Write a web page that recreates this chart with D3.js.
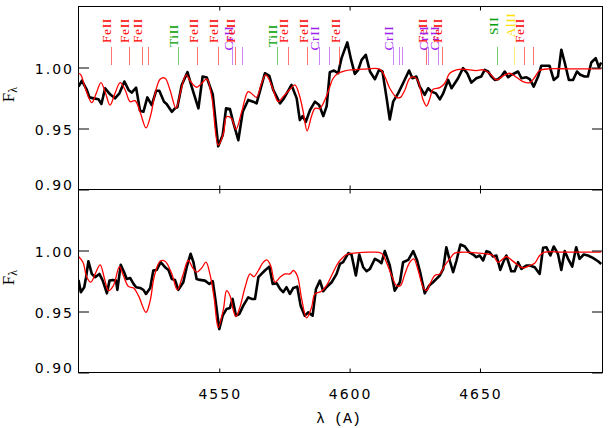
<!DOCTYPE html>
<html><head><meta charset="utf-8">
<script src="https://cdn.jsdelivr.net/npm/d3@7"></script>
<style>html,body{margin:0;padding:0;background:#fff;}svg{display:block;}</style>
</head><body>
<svg id="c" width="610" height="428"></svg>
<script>
// ---------------- data ----------------
const xTicks = [4550, 4600, 4650];
const yTicks = [0.90, 0.95, 1.00];
const yTickLabels = ["0.90", "0.95", "1.00"];

// top panel observed spectrum
const topObsWave = [4496.0,4497.3,4499.2,4500.2,4501.8,4503.7,4504.8,4506.2,4508.1,4510.0,4511.7,4513.6,4515.2,4516.4,4518.1,4519.6,4520.9,4522.4,4524.1,4525.8,4527.0,4528.8,4529.8,4531.8,4533.0,4533.9,4535.6,4537.8,4539.4,4542.0,4543.6,4545.2,4547.5,4549.6,4551.3,4552.6,4554.1,4555.4,4557.3,4559.0,4561.1,4563.0,4564.3,4567.5,4569.2,4570.7,4573.3,4574.8,4577.7,4579.7,4580.9,4582.0,4583.2,4584.8,4586.7,4588.3,4589.9,4591.2,4592.4,4594.0,4595.6,
4596.9,4599.1,4600.6,4602.0,4603.3,4604.6,4606.2,4607.8,4609.7,4611.3,4612.6,4614.1,4615.4,4616.7,4618.6,4620.5,4622.8,4624.1,4625.6,4626.9,4628.8,4630.1,4631.4,4633.1,4634.6,4635.9,4637.8,4639.1,4641.6,4643.5,4645.1,4646.7,4648.6,4650.5,4651.8,4653.1,4654.4,4655.7,4656.9,4658.2,4659.5,4660.8,4662.0,4663.3,4664.6,4665.9,4667.8,4669.1,4670.6,4672.3,4673.5,4675.5,4676.7,4678.3,4679.9,4681.2,4682.5,4684.1,4685.7,4687.2,4688.5,4690.1,4691.4,4692.7,4694.4,4695.6,4696.5];
const topObsFlux = [0.9843,0.9893,0.9816,0.9755,0.9747,0.9739,0.9701,0.9830,0.9780,0.9747,0.9788,0.9885,0.9816,0.9794,0.9835,0.9646,0.9637,0.9755,0.9692,0.9810,0.9810,0.9720,0.9701,0.9637,0.9665,0.9673,0.9857,0.9962,0.9843,0.9665,0.9926,0.9918,0.9780,0.9354,0.9445,0.9665,0.9659,0.9547,0.9404,0.9637,0.9734,0.9720,0.9706,0.9953,0.9931,0.9816,0.9706,0.9747,0.9857,0.9747,0.9569,0.9602,0.9555,0.9651,0.9720,0.9692,0.9602,0.9684,0.9962,0.9975,0.9953,
1.0077,1.0206,1.0060,0.9948,0.9981,1.0063,1.0104,0.9967,0.9904,0.9981,0.9967,0.9761,0.9574,0.9720,0.9788,0.9871,0.9975,0.9912,0.9926,0.9843,0.9775,0.9830,0.9802,0.9788,0.9739,0.9788,0.9898,0.9830,0.9912,0.9995,0.9953,0.9876,0.9912,0.9926,0.9981,0.9967,0.9926,0.9898,0.9904,0.9926,0.9967,0.9920,0.9940,0.9953,0.9967,0.9912,0.9920,0.9904,0.9843,0.9926,1.0014,1.0014,1.0014,0.9898,0.9926,1.0146,1.0041,0.9898,0.9898,0.9967,0.9940,0.9926,0.9926,1.0041,1.0077,1.0003,1.0041];

// top panel model spectrum
const topModWave = [4496.0,4496.9,4498.6,4501.1,4502.8,4504.6,4506.2,4508.1,4510.0,4512.0,4513.9,4515.8,4517.7,4519.6,4521.9,4523.7,4525.4,4527.3,4529.2,4531.1,4533.4,4535.0,4537.3,4539.0,4541.3,4543.3,4545.2,4547.1,4549.6,4551.6,4552.8,4554.7,4556.4,4558.6,4561.1,4563.0,4564.3,4566.2,4567.8,4569.2,4570.7,4572.6,4574.5,4577.1,4579.0,4580.7,4582.2,4583.7,4585.4,4586.7,4588.6,4590.5,4592.4,4593.7,4595.6,4598.2,4601.4,4605.2,4611.6,4613.5,4615.4,4618.0,4619.5,4621.2,4623.1,4625.0,4626.3,4628.2,4629.5,4630.8,4632.0,4634.6,4636.5,4638.4,4641.0,4643.5,4648.6,4651.2,4653.7,4656.3,4658.9,4661.4,4664.0,4666.5,4669.1,4671.0,4672.9,4676.7,4684.4,4696.5];
const topModFlux = [0.9953,0.9940,0.9830,0.9712,0.9788,0.9876,0.9802,0.9692,0.9788,0.9876,0.9816,0.9720,0.9728,0.9637,0.9505,0.9610,0.9788,0.9904,0.9912,0.9816,0.9665,0.9788,0.9940,0.9885,0.9838,0.9871,0.9907,0.9761,0.9363,0.9459,0.9596,0.9582,0.9492,0.9637,0.9802,0.9775,0.9755,0.9871,0.9940,0.9898,0.9816,0.9720,0.9761,0.9821,0.9857,0.9775,0.9637,0.9481,0.9602,0.9665,0.9665,0.9734,0.9843,0.9912,0.9953,0.9973,0.9981,0.9986,0.9986,0.9926,0.9830,0.9755,0.9755,0.9816,0.9912,0.9920,0.9885,0.9734,0.9684,0.9747,0.9821,0.9835,0.9871,0.9953,0.9981,0.9986,0.9975,0.9981,0.9953,0.9898,0.9931,0.9953,0.9920,0.9885,0.9876,0.9920,0.9975,0.9989,0.9989,0.9989];

// bottom panel observed spectrum
const botObsWave = [4496.0,4496.9,4498.2,4498.9,4499.8,4501.1,4502.4,4504.0,4505.3,4506.9,4507.9,4509.2,4510.4,4510.9,4512.2,4513.5,4514.5,4515.8,4517.1,4518.1,4519.6,4520.9,4521.9,4523.5,4524.7,4526.0,4527.5,4529.2,4530.5,4531.8,4533.0,4534.3,4536.2,4537.5,4539.0,4540.1,4541.3,4542.6,4544.5,4546.2,4547.5,4548.4,4550.0,4551.3,4552.8,4554.1,4555.1,4556.4,4557.7,4559.2,4561.1,4562.4,4563.7,4565.0,4566.2,4567.5,4569.2,4570.5,4572.0,4573.3,4574.5,4575.8,4577.1,4578.4,4579.9,4581.2,4582.8,4584.1,4585.8,4587.1,4588.6,4589.9,4591.1,4593.1,4595.0,4596.3,
4597.5,4599.5,4600.7,4602.4,4603.7,4605.2,4606.5,4607.8,4609.7,4611.3,4612.2,4613.5,4615.4,4617.3,4619.3,4620.5,4622.5,4624.4,4625.9,4627.2,4628.8,4630.5,4632.0,4633.3,4634.6,4635.9,4637.1,4638.4,4639.7,4641.0,4642.5,4644.2,4645.8,4647.4,4648.6,4649.9,4651.2,4652.5,4653.7,4655.0,4656.3,4657.8,4658.9,4660.1,4662.0,4663.3,4664.6,4665.9,4667.8,4669.1,4671.0,4672.9,4674.2,4675.5,4677.0,4678.3,4679.9,4681.2,4682.5,4683.8,4685.4,4686.9,4688.2,4689.8,4691.4,4693.3,4695.3,4696.5];
const botObsFlux = [0.9759,0.9658,0.9699,0.9781,0.9912,0.9808,0.9781,0.9808,0.9753,0.9649,0.9753,0.9759,0.9753,0.9677,0.9882,0.9822,0.9767,0.9775,0.9726,0.9699,0.9693,0.9677,0.9644,0.9693,0.9836,0.9841,0.9904,0.9863,0.9841,0.9767,0.9759,0.9677,0.9740,0.9863,0.9973,0.9904,0.9767,0.9759,0.9753,0.9726,0.9748,0.9616,0.9356,0.9466,0.9521,0.9529,0.9603,0.9466,0.9479,0.9548,0.9616,0.9603,0.9603,0.9781,0.9808,0.9836,0.9868,0.9726,0.9732,0.9685,0.9658,0.9699,0.9644,0.9693,0.9704,0.9548,0.9466,0.9493,0.9466,0.9685,0.9753,0.9666,0.9699,0.9740,0.9808,0.9890,
0.9904,0.9978,0.9967,0.9795,0.9967,0.9863,0.9830,0.9849,0.9932,0.9912,0.9896,0.9995,0.9877,0.9671,0.9740,0.9904,0.9923,0.9995,0.9918,0.9808,0.9649,0.9712,0.9740,0.9767,0.9795,0.9849,1.0027,0.9918,0.9822,0.9918,1.0049,1.0033,0.9986,0.9967,0.9945,0.9959,0.9918,0.9995,0.9986,0.9951,0.9959,0.9841,0.9904,0.9959,0.9830,0.9830,0.9904,0.9849,0.9877,0.9877,0.9863,0.9808,1.0022,1.0027,0.9959,1.0033,0.9973,0.9841,0.9995,0.9932,0.9868,1.0027,0.9932,0.9967,0.9959,0.9940,0.9912,0.9890];

// bottom panel model spectrum
const botModWave = [4496.0,4497.7,4499.2,4500.7,4502.4,4504.3,4506.0,4507.5,4509.4,4511.7,4513.2,4515.2,4517.1,4519.0,4521.9,4523.5,4525.0,4527.3,4529.2,4531.8,4533.9,4536.0,4538.1,4539.8,4541.3,4543.3,4544.9,4546.4,4548.0,4549.6,4551.6,4552.8,4554.1,4555.4,4556.4,4557.9,4559.9,4561.8,4563.3,4565.0,4566.6,4568.2,4569.7,4571.4,4573.3,4575.2,4577.1,4578.4,4579.9,4581.6,4583.5,4585.4,4586.7,4589.2,4591.1,4593.1,4595.0,4596.3,4598.8,4602.7,4607.8,4612.2,4614.1,4616.1,4618.0,4619.5,4621.2,4623.1,4624.6,4626.3,4628.2,4629.5,4630.8,4632.7,4634.6,4636.5,4638.4,4640.3,4643.5,4649.9,4652.5,4655.0,4656.9,4658.9,4660.1,4662.0,4664.0,4666.5,4669.1,4671.0,4672.9,4674.8,4681.8,4696.5];
const botModFlux = [0.9951,0.9904,0.9781,0.9740,0.9808,0.9882,0.9767,0.9671,0.9712,0.9868,0.9795,0.9704,0.9693,0.9630,0.9493,0.9589,0.9781,0.9912,0.9912,0.9808,0.9677,0.9795,0.9918,0.9858,0.9822,0.9858,0.9904,0.9808,0.9616,0.9370,0.9521,0.9671,0.9630,0.9507,0.9458,0.9534,0.9699,0.9808,0.9786,0.9836,0.9896,0.9923,0.9877,0.9740,0.9781,0.9808,0.9808,0.9836,0.9795,0.9603,0.9447,0.9534,0.9644,0.9666,0.9712,0.9795,0.9877,0.9918,0.9967,0.9981,0.9986,0.9978,0.9904,0.9795,0.9712,0.9712,0.9808,0.9904,0.9932,0.9836,0.9699,0.9671,0.9726,0.9795,0.9808,0.9877,0.9932,0.9978,0.9986,0.9978,0.9973,0.9959,0.9904,0.9932,0.9951,0.9923,0.9890,0.9858,0.9877,0.9896,0.9959,0.9986,0.9986,0.9986];

// line identifications (top panel)
const lineWave = [4508.3,4515.3,4520.2,4522.6,4534.0,4541.5,4549.5,4555.0,4555.9,4558.7,4572.0,4576.3,4583.8,4588.2,4592.0,4596.0,4616.6,4618.8,4620.0,4629.4,4630.0,4634.0,4635.3,4656.7,4663.1,4666.8,4670.2];
const lineIon = ["FeII","FeII","FeII","FeII","TiII","FeII","FeII","CrII","FeII","CrII","TiII","FeII","FeII","CrII","CrII","FeII","CrII","CrII","CrII","FeII","CrII","CrII","FeII","SII","AlII","FeII","FeII"];
const lineLabeled = [1,1,1,0,1,1,1,1,1,0,1,1,1,1,0,1,1,0,0,1,1,1,1,1,1,1,0];

// ---------------- styles ----------------
const ionColor = {FeII:"#ff0000", TiII:"#00a000", CrII:"#a020f0", SII:"#00a000", AlII:"#ffe000"};
const ionLabelBottom = {FeII:43, TiII:47, CrII:50.5, SII:35, AlII:37.5};

// ---------------- drawing ----------------
const svg = d3.select("#c");
const L = 78.5, R = 602.5;
const panels = [
  {y0:6.5, y1:189.5, obsW:topObsWave, obsF:topObsFlux, modW:topModWave, modF:topModFlux, id:"t"},
  {y0:189.5, y1:372.5, obsW:botObsWave, obsF:botObsFlux, modW:botModWave, modF:botModFlux, id:"b"}
];
const x = d3.scaleLinear().domain([4496, 4697]).range([L, R]);

const tickFont = "'DejaVu Sans', sans-serif";

panels.forEach((p, pi) => {
  const y = d3.scaleLinear().domain([0.90, 1.05]).range([p.y1, p.y0]);
  p.y = y;
  svg.append("clipPath").attr("id", "clip" + p.id)
    .append("rect").attr("x", L).attr("y", p.y0).attr("width", R - L).attr("height", p.y1 - p.y0);

  const g = svg.append("g");
  const lineObs = d3.line().x(d => x(d[0])).y(d => y(d[1]));
  const lineMod = d3.line().x(d => x(d[0])).y(d => y(d[1])).curve(d3.curveCatmullRom.alpha(0.5));
  g.append("path").datum(d3.zip(p.obsW, p.obsF)).attr("d", lineObs)
    .attr("fill", "none").attr("stroke", "#000").attr("stroke-width", 2.6)
    .attr("stroke-linejoin", "round").attr("clip-path", `url(#clip${p.id})`);
  g.append("path").datum(d3.zip(p.modW, p.modF)).attr("d", lineMod)
    .attr("fill", "none").attr("stroke", "#ff0000").attr("stroke-width", 1.3)
    .attr("clip-path", `url(#clip${p.id})`);

  const strip = sel => { sel.select(".domain").remove(); sel.selectAll("text").remove(); sel.selectAll("line").attr("stroke", "#000"); };
  svg.append("g").attr("transform", `translate(0,${p.y0})`)
    .call(d3.axisTop(x).tickValues(xTicks).tickSize(-4).tickFormat("")).call(strip);
  svg.append("g").attr("transform", `translate(0,${p.y1})`)
    .call(d3.axisBottom(x).tickValues(xTicks).tickSize(-4).tickFormat("")).call(strip);
  svg.append("g").attr("transform", `translate(${L},0)`)
    .call(d3.axisLeft(y).tickValues(yTicks).tickSize(-10.5).tickFormat("")).call(strip);
  svg.append("g").attr("transform", `translate(${R},0)`)
    .call(d3.axisRight(y).tickValues(yTicks).tickSize(-10.5).tickFormat("")).call(strip);

  svg.append("rect").attr("x", L).attr("y", p.y0).attr("width", R - L).attr("height", p.y1 - p.y0)
    .attr("fill", "none").attr("stroke", "#000").attr("stroke-width", 1);

  svg.append("g").selectAll("text").data(yTicks).join("text")
    .attr("x", 74).attr("y", (d) => Math.min(y(d) + 6.5, p.y1))
    .attr("text-anchor", "end").attr("font-family", tickFont).attr("font-size", 14)
    .attr("letter-spacing", 2).attr("fill", "#000")
    .text((d, i) => yTickLabels[i]);

  const cy = (p.y0 + p.y1) / 2 - 3.5;
  const t = svg.append("text").attr("transform", `translate(14,${cy}) rotate(-90)`)
    .attr("text-anchor", "middle").attr("font-family", "'Liberation Serif', serif").attr("font-size", 17).attr("fill", "#000");
  t.append("tspan").text("F");
  t.append("tspan").attr("font-size", 12).attr("dy", 3).text("λ");
});

const yb = panels[1].y1;
svg.append("g").selectAll("text").data(xTicks).join("text")
  .attr("x", d => x(d) + 1).attr("y", yb + 26.5)
  .attr("text-anchor", "middle").attr("font-family", tickFont).attr("font-size", 14)
  .attr("letter-spacing", 2).attr("fill", "#000").text(d => d3.format("d")(d));

svg.append("text").attr("x", 338.5).attr("y", 423).attr("text-anchor", "middle")
  .attr("font-family", "'Liberation Mono', monospace").attr("font-size", 15).attr("fill", "#000")
  .text("λ (A)");

const lines = d3.range(lineWave.length).map(i => ({w: lineWave[i], ion: lineIon[i], lab: lineLabeled[i]}));
const gl = svg.append("g");
gl.selectAll("line").data(lines).join("line")
  .attr("x1", d => Math.round(x(d.w)) + 0.5).attr("x2", d => Math.round(x(d.w)) + 0.5)
  .attr("y1", 47).attr("y2", 65)
  .attr("stroke", d => ionColor[d.ion]).attr("stroke-width", 1).attr("stroke-opacity", 0.55);
gl.selectAll("text").data(lines.filter(d => d.lab)).join("text")
  .attr("transform", d => `translate(${x(d.w) + 0.5},${ionLabelBottom[d.ion]}) rotate(-90)`)
  .attr("font-family", "'Liberation Serif', serif").attr("font-size", 13.5)
  .attr("letter-spacing", 0.6).attr("fill", d => ionColor[d.ion])
  .text(d => d.ion);
</script>
</body></html>
